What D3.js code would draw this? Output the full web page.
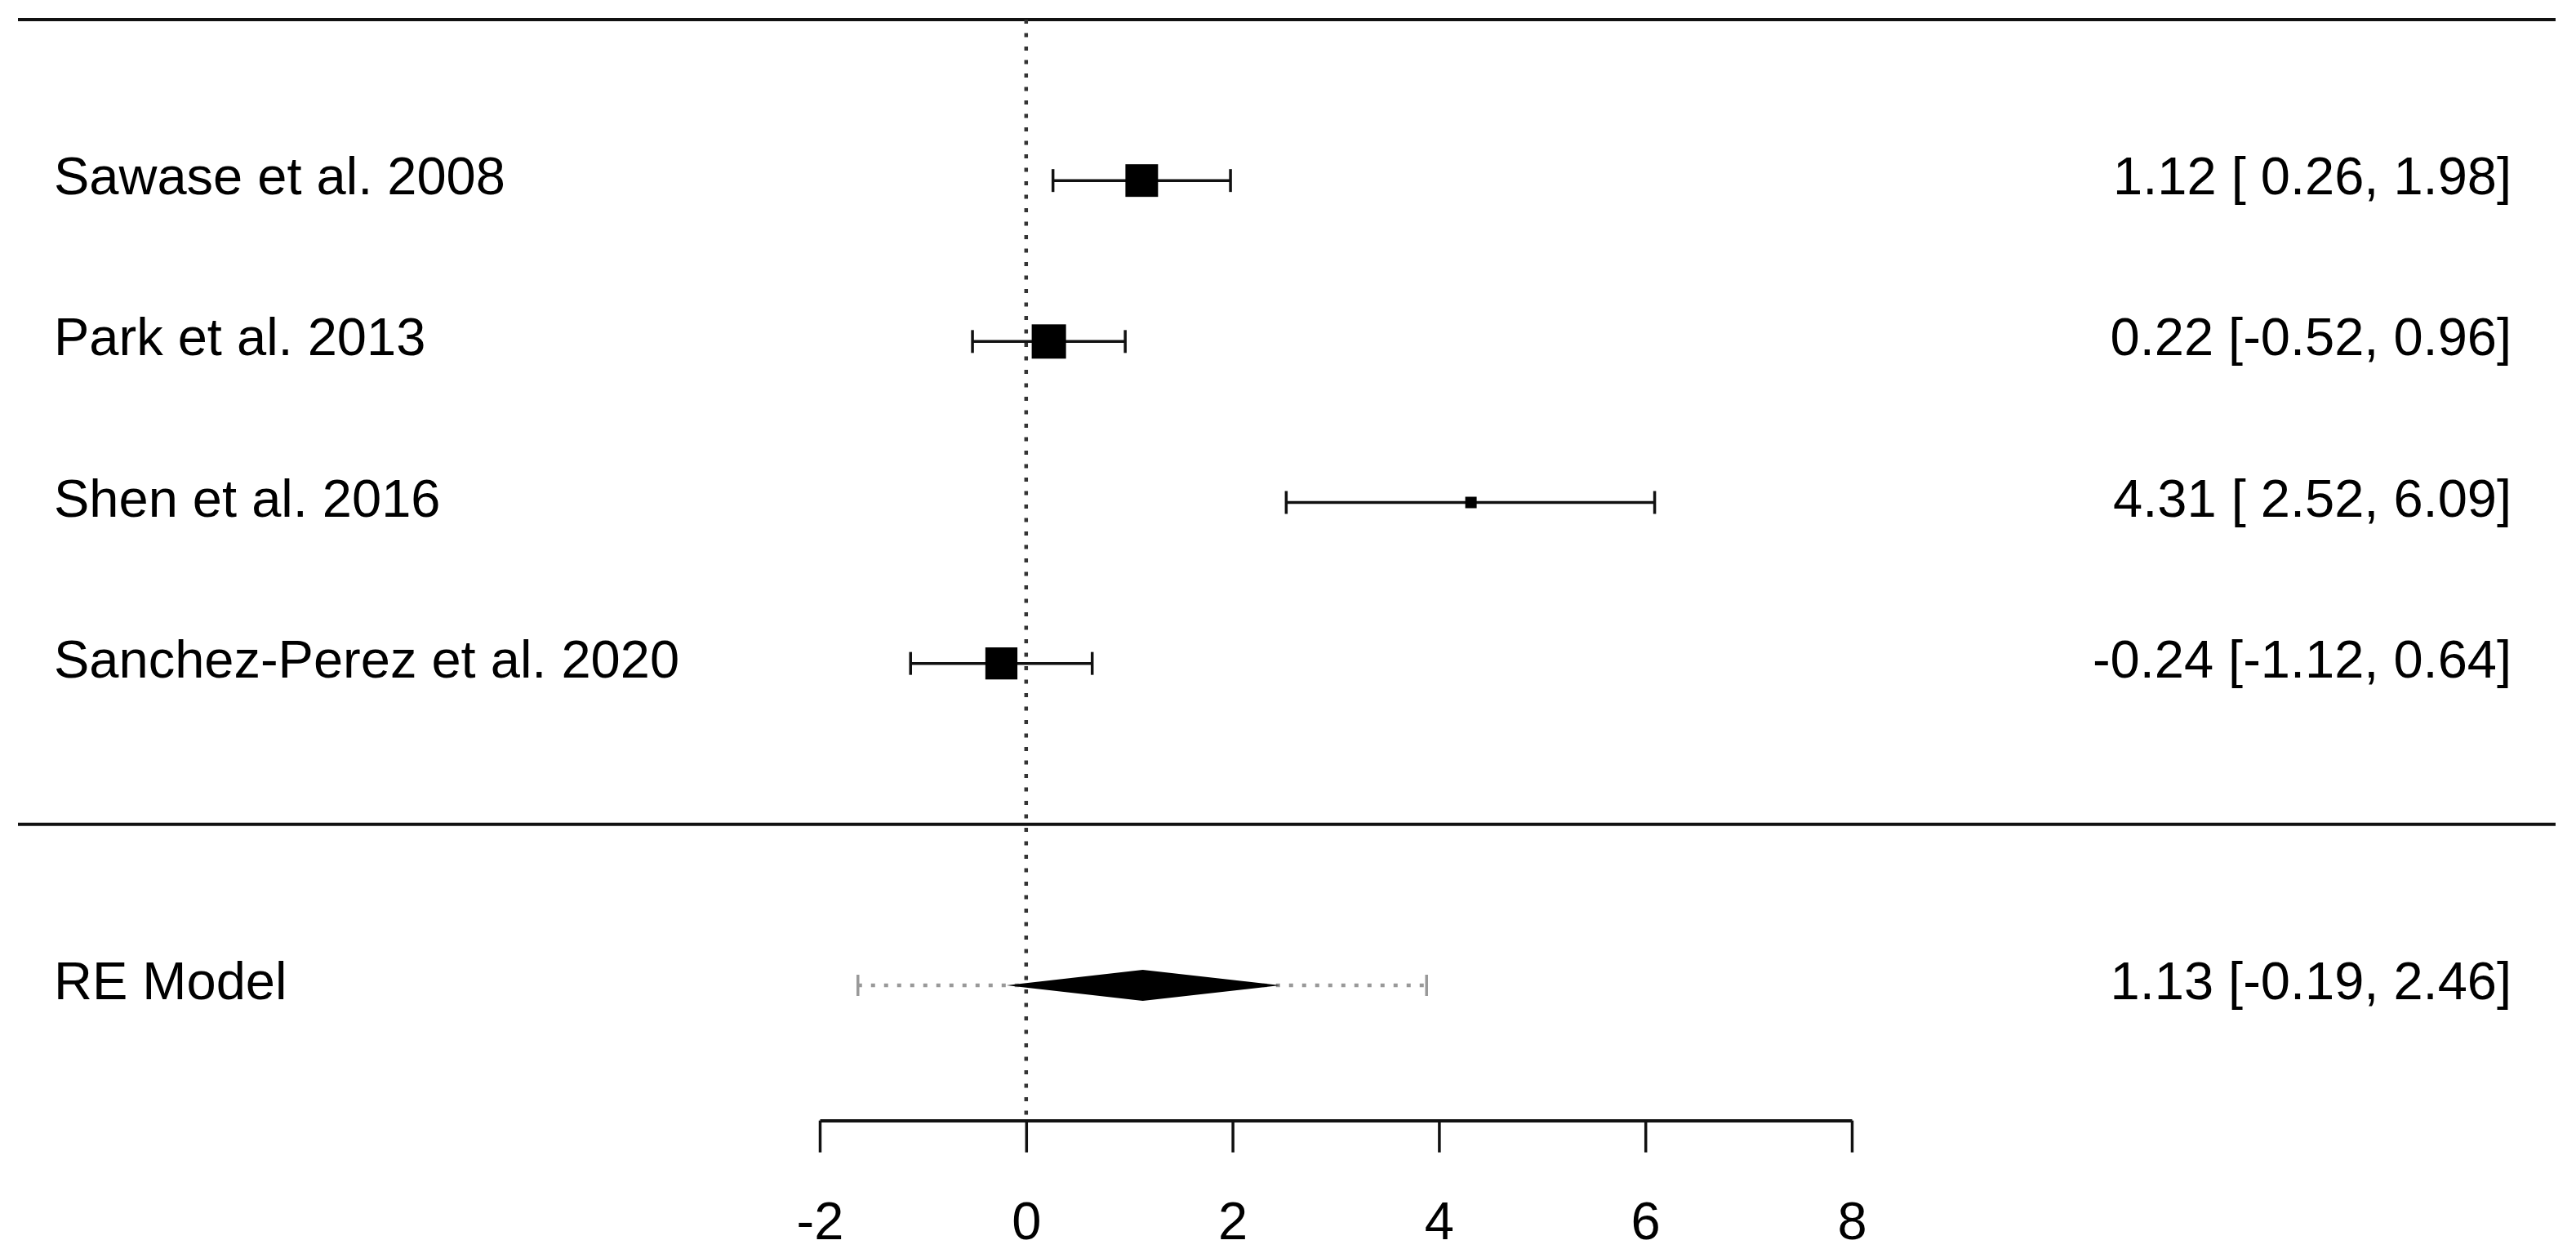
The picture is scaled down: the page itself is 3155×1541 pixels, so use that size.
<!DOCTYPE html>
<html lang="en">
    <head>
        <meta charset="utf-8">
        <title>Forest plot</title>
        <script type="text/javascript" src="https://cdnjs.cloudflare.com/ajax/libs/d3/7.8.5/d3.min.js"></script>
        <style>
            body { margin: 0; background: #fff; }
            text { font-family: "Liberation Sans", Arial, sans-serif; font-size: 65px; fill: #000; white-space: pre; }
        </style>
    </head>
    <body>
        <div id="chart"></div>
        <script type="text/javascript">
            // study data
            var studies = ["Sawase et al. 2008", "Park et al. 2013", "Shen et al. 2016", "Sanchez-Perez et al. 2020"];
            var estimates = [1.12, 0.22, 4.31, -0.24];
            var lower = [0.26, -0.52, 2.52, -1.12];
            var upper = [1.98, 0.96, 6.09, 0.64];
            var weights = [25.9, 26.2, 22.1, 25.8];
            var labels = ["1.12 [ 0.26, 1.98]", "0.22 [-0.52, 0.96]", "4.31 [ 2.52, 6.09]", "-0.24 [-1.12, 0.64]"];

            // pooled RE model
            var reLabel = "RE Model";
            var reEstimate = 1.13;
            var reCI = [-0.19, 2.46];
            var rePI = [-1.63, 3.88];
            var reText = "1.13 [-0.19, 2.46]";

            var xTicks = [-2, 0, 2, 4, 6, 8];

            var width = 3155;
            var height = 1541;

            var svg = d3.select("#chart")
                    .append("svg")
                    .attr("width", width)
                    .attr("height", height);

            var xScale = d3.scaleLinear()
                    .domain([-2, 8])
                    .range([1004, 2268]);
            // rows: studies at k..1, summary at -1
            var yScale = d3.scaleLinear()
                    .domain([5, -1])
                    .range([24, 1207]);
            var sizeScale = d3.scaleLinear()
                    .domain([d3.min(weights), d3.max(weights)])
                    .range([14, 42]);

            var k = studies.length;
            var rows = studies.map(function(d, i){
                return {name: d, est: estimates[i], lo: lower[i], hi: upper[i], w: weights[i], label: labels[i], row: k - i};
            });

            // horizontal rules
            [5, 0].forEach(function(r){
                svg.append("line")
                    .attr("x1", 22).attr("x2", 3130)
                    .attr("y1", yScale(r)).attr("y2", yScale(r))
                    .attr("stroke", "#111").attr("stroke-width", 4);
            });

            // reference line at 0
            svg.append("line")
                .attr("x1", xScale(0)).attr("x2", xScale(0))
                .attr("y1", yScale(5)).attr("y2", yScale(-1.84))
                .attr("stroke", "#333").attr("stroke-width", 4.5)
                .attr("stroke-dasharray", "5,11.5");

            // confidence intervals
            var g = svg.append("g");
            g.selectAll("line.ci")
                .data(rows)
                .enter()
                .append("line")
                .attr("class", "ci")
                .attr("x1", function(d){return xScale(d.lo);})
                .attr("x2", function(d){return xScale(d.hi);})
                .attr("y1", function(d){return yScale(d.row);})
                .attr("y2", function(d){return yScale(d.row);})
                .attr("stroke", "#111").attr("stroke-width", 3.5);
            ["lo", "hi"].forEach(function(key){
                g.selectAll("line.cap-" + key)
                    .data(rows)
                    .enter()
                    .append("line")
                    .attr("x1", function(d){return xScale(d[key]);})
                    .attr("x2", function(d){return xScale(d[key]);})
                    .attr("y1", function(d){return yScale(d.row) - 14;})
                    .attr("y2", function(d){return yScale(d.row) + 14;})
                    .attr("stroke", "#111").attr("stroke-width", 3.5);
            });
            g.selectAll("rect")
                .data(rows)
                .enter()
                .append("rect")
                .attr("x", function(d){return xScale(d.est) - sizeScale(d.w)/2;})
                .attr("y", function(d){return yScale(d.row) - sizeScale(d.w)/2;})
                .attr("width", function(d){return sizeScale(d.w);})
                .attr("height", function(d){return sizeScale(d.w);})
                .attr("fill", "#000");

            // study labels and text
            g.selectAll("text.name")
                .data(rows)
                .enter()
                .append("text")
                .attr("x", 66)
                .attr("y", function(d){return yScale(d.row) + 17;})
                .text(function(d){return d.name;});
            g.selectAll("text.val")
                .data(rows)
                .enter()
                .append("text")
                .attr("x", 3076)
                .attr("y", function(d){return yScale(d.row) + 17;})
                .attr("text-anchor", "end")
                .text(function(d){return d.label;});

            // summary: prediction interval, diamond
            var yRE = yScale(-1);
            svg.append("line")
                .attr("x1", xScale(rePI[0])).attr("x2", xScale(rePI[1]))
                .attr("y1", yRE).attr("y2", yRE)
                .attr("stroke", "#999").attr("stroke-width", 4.5)
                .attr("stroke-dasharray", "5,11");
            rePI.forEach(function(v){
                svg.append("line")
                    .attr("x1", xScale(v)).attr("x2", xScale(v))
                    .attr("y1", yRE - 13).attr("y2", yRE + 13)
                    .attr("stroke", "#999").attr("stroke-width", 3.5);
            });
            svg.append("polygon")
                .attr("points", [
                    [xScale(reCI[0]), yRE],
                    [xScale(reEstimate), yRE - 19],
                    [xScale(reCI[1]), yRE],
                    [xScale(reEstimate), yRE + 19]
                ].map(function(p){return p.join(",");}).join(" "))
                .attr("fill", "#000");
            svg.append("text")
                .attr("x", 66).attr("y", yRE + 17)
                .text(reLabel);
            svg.append("text")
                .attr("x", 3076).attr("y", yRE + 17)
                .attr("text-anchor", "end")
                .text(reText);

            // x axis
            var xAxis = d3.axisBottom(xScale)
                    .tickValues(xTicks)
                    .tickFormat(d3.format("d"))
                    .tickSize(39)
                    .tickSizeOuter(0)
                    .tickPadding(60);
            var ax = svg.append("g")
                .attr("transform", "translate(0," + yScale(-1.84) + ")")
                .call(xAxis);
            ax.select(".domain").attr("stroke", "#111").attr("stroke-width", 4);
            ax.selectAll(".tick line").attr("stroke", "#111").attr("stroke-width", 3.5);
            ax.selectAll(".tick text")
                .attr("font-family", null)
                .attr("font-size", null)
                .text(function(d){return d < 0 ? "-" + Math.abs(d) : d;});
        </script>
    </body>
</html>
